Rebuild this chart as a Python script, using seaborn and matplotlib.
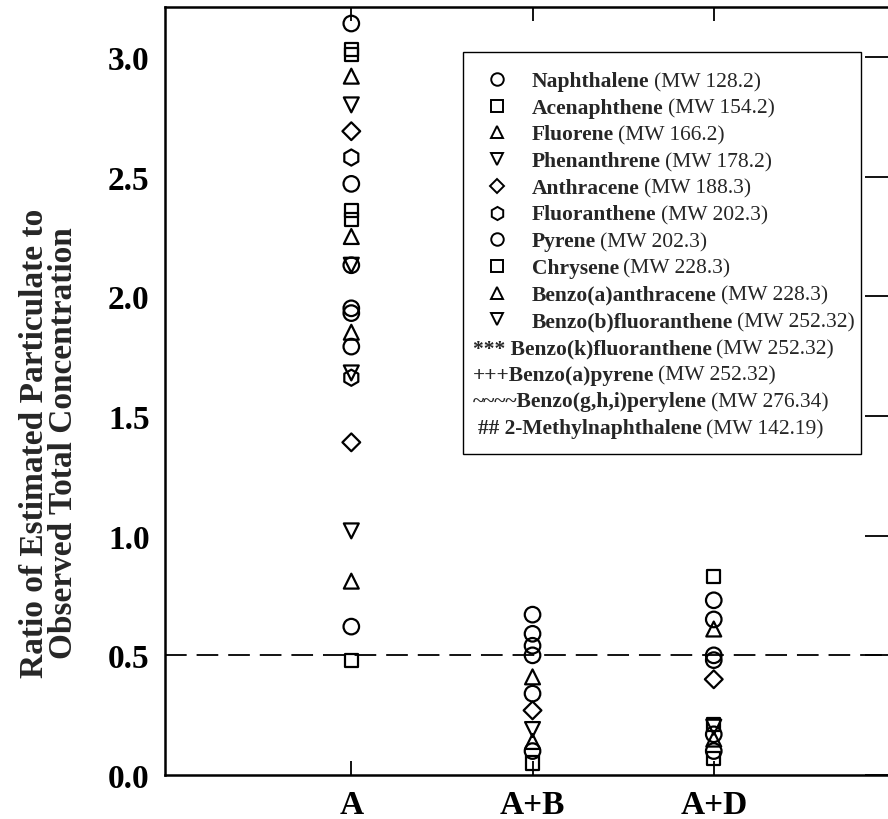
import numpy as np
import pandas as pd
import matplotlib
matplotlib.use("Agg")
import matplotlib.pyplot as plt
from matplotlib.lines import Line2D
from matplotlib.patches import Rectangle
from matplotlib.ticker import FormatStrFormatter
import seaborn as sns

# ---------------- data ----------------
categories = ["A", "A+B", "A+D"]

# values per marker shape, one list per category (A, A+B, A+D)
circle_vals = [[3.14, 2.47, 2.13, 1.95, 1.93, 1.79, 0.62],
               [0.67, 0.59, 0.54, 0.50, 0.34, 0.10],
               [0.73, 0.65, 0.50, 0.48, 0.17, 0.10]]
square_vals = [[3.03, 3.01, 2.36, 2.32, 0.48],
               [0.05],
               [0.83, 0.21, 0.07]]
tri_up_vals = [[2.92, 2.25, 1.85, 0.81],
               [0.41, 0.14],
               [0.61, 0.15]]
tri_down_vals = [[2.80, 2.13, 1.68, 1.02],
                 [0.19],
                 [0.20]]
diamond_vals = [[2.69, 1.39],
                [0.27],
                [0.40]]
hexagon_vals = [[2.58, 1.66],
                [],
                []]

shape_names = ["circle", "square", "triangle_up", "triangle_down", "diamond", "hexagon"]
shape_values = [circle_vals, square_vals, tri_up_vals, tri_down_vals, diamond_vals, hexagon_vals]

y_ticks = [0.0, 0.5, 1.0, 1.5, 2.0, 2.5, 3.0]
reference_ratio = 0.5

legend_names = ["Naphthalene", "Acenaphthene", "Fluorene", "Phenanthrene", "Anthracene",
                "Fluoranthene", "Pyrene", "Chrysene", "Benzo(a)anthracene",
                "Benzo(b)fluoranthene", "*** Benzo(k)fluoranthene", "+++Benzo(a)pyrene",
                "~~~~Benzo(g,h,i)perylene", "## 2-Methylnaphthalene"]
legend_mw = ["(MW 128.2)", "(MW 154.2)", "(MW 166.2)", "(MW 178.2)", "(MW 188.3)",
             "(MW 202.3)", "(MW 202.3)", "(MW 228.3)", "(MW 228.3)", "(MW 252.32)",
             "(MW 252.32)", "(MW 252.32)", "(MW 276.34)", "(MW 142.19)"]
legend_markers = ["o", "s", "^", "v", "D", "h", "o", "s", "^", "v", None, None, None, None]

rows = []
for shape, vals in zip(shape_names, shape_values):
    for ci, cat in enumerate(categories):
        for v in vals[ci]:
            rows.append({"condition": cat, "pos": ci, "shape": shape, "ratio": v})
df = pd.DataFrame(rows)

# ---------------- style ----------------
sns.set_style("ticks")
plt.rcParams["font.family"] = ["Liberation Serif", "DejaVu Serif"]

W, H = 888, 820
fig = plt.figure(figsize=(W / 100, H / 100), dpi=100)
ax = fig.add_axes([165 / W, 1 - 776 / H, (891 - 165) / W, (776 - 8) / H])

marker_map = {"circle": "o", "square": "s", "triangle_up": "^",
              "triangle_down": "v", "diamond": "D", "hexagon": "h"}
size_map = {"circle": 125, "square": 90, "triangle_up": 115,
            "triangle_down": 115, "diamond": 82, "hexagon": 135}

sns.scatterplot(data=df, x="pos", y="ratio", style="shape", markers=marker_map,
                size="shape", sizes=size_map, facecolors="none", edgecolors="black",
                linewidth=1.6, legend=False, ax=ax, zorder=3)

ax.axhline(reference_ratio, color="black", lw=1.3, dashes=(12, 5.5), zorder=2)

ax.set_xlim(-1.028, 2.978)
ax.set_ylim(0, 3.209)
ax.set_xticks(range(len(categories)))
ax.set_xticklabels(categories)
ax.set_yticks(y_ticks)
ax.yaxis.set_major_formatter(FormatStrFormatter("%.1f"))
ax.set_xlabel("")
ax.set_ylabel("Ratio of Estimated Particulate to\nObserved Total Concentration",
              fontsize=24, fontweight="bold", linespacing=0.95)
ax.yaxis.label.set_verticalalignment("center")
ax.yaxis.set_label_coords((49 - 165) / 726, 1 - (443 - 8) / 768)

ax.tick_params(axis="x", direction="in", top=True, bottom=True, length=10,
               width=1.3, pad=10, labelsize=24, colors="black")
ax.tick_params(axis="y", direction="in", left=False, right=True, length=19,
               width=1.3, pad=11, labelsize=24, colors="black")
for lbl in ax.get_xticklabels() + ax.get_yticklabels():
    lbl.set_fontweight("bold")
for s in ax.spines.values():
    s.set_linewidth(1.8)
    s.set_color("black")
    s.set_visible(True)
ax.grid(False)

# ---------------- legend (drawn manually for mixed weights) ----------------
fig.add_artist(Rectangle((463 / W, 1 - 455 / H), (861 - 463) / W, (455 - 53) / H,
                         transform=fig.transFigure, fill=False, ec="black", lw=1.0))
ms_map = {"o": 9, "s": 8, "^": 9, "v": 9, "D": 7, "h": 9.5}
renderer = fig.canvas.get_renderer()
for i, (name, mw, mk) in enumerate(zip(legend_names, legend_mw, legend_markers)):
    base = 87 + 26.7 * i
    if mk is not None:
        fig.add_artist(Line2D([497 / W], [1 - (base - 7) / H], transform=fig.transFigure,
                              marker=mk, ms=ms_map[mk], mfc="none", mec="black",
                              mew=1.4, ls="none"))
        x0 = 532
    else:
        x0 = 478 if name.startswith("##") else 473
    t = fig.text(x0 / W, 1 - base / H, name, fontsize=15.5, fontweight="bold",
                 va="baseline", ha="left")
    w = t.get_window_extent(renderer).width
    fig.text((x0 + w + 4) / W, 1 - base / H, mw, fontsize=15.5,
             va="baseline", ha="left")

fig.savefig("out.png", dpi=100)
